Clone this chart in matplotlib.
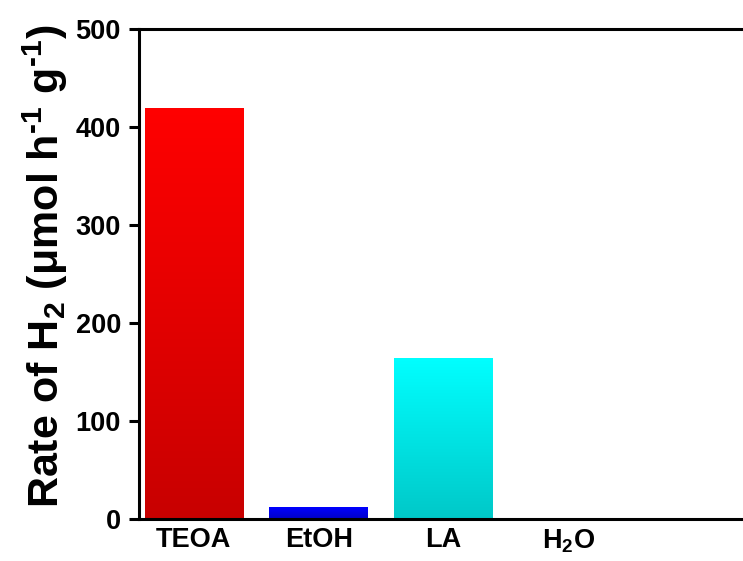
import numpy as np
import matplotlib
matplotlib.use("Agg")
import matplotlib.pyplot as plt
from matplotlib.colors import LinearSegmentedColormap

plt.rcParams['font.family'] = ['Liberation Sans', 'DejaVu Sans']
plt.rcParams['font.weight'] = 'bold'
plt.rcParams['mathtext.fontset'] = 'custom'
plt.rcParams['mathtext.rm'] = 'Liberation Sans:bold'
plt.rcParams['mathtext.it'] = 'Liberation Sans:bold'
plt.rcParams['mathtext.bf'] = 'Liberation Sans:bold'

# sacrificial agents and H2 evolution rate
agents = ['TEOA', 'EtOH', 'LA', r'H$\mathregular{_2}$O']
rates = [420, 12, 164, 0]
top_colors = ['#ff0000', '#0000ff', '#00ffff', '#ffffff']
bottom_colors = ['#c80000', '#0000c8', '#00c8c8', '#ffffff']

fig = plt.figure(figsize=(7.43, 5.61), dpi=100)
ax = fig.add_axes([0.187, 0.075, 0.83, 0.873])

x = np.arange(len(agents))
bars = ax.bar(x, rates, width=0.79, color='none', edgecolor='none', zorder=2)

# fill each bar with a vertical gradient, clipped to the bar
for b, c_top, c_bot in zip(bars, top_colors, bottom_colors):
    if b.get_height() <= 0:
        continue
    cmap = LinearSegmentedColormap.from_list('g', [c_bot, c_top])
    grad = np.linspace(0, 1, 256).reshape(-1, 1)
    x0, w, h = b.get_x(), b.get_width(), b.get_height()
    im = ax.imshow(grad, cmap=cmap, origin='lower', aspect='auto',
                   extent=[x0, x0 + w, 0, h], zorder=2)
    im.set_clip_path(b)

ax.set_xlim(-0.44, 4.5)
ax.set_ylim(0, 500)
ax.set_yticks([0, 100, 200, 300, 400, 500])
ax.set_xticks(x)
ax.set_xticklabels(agents, fontsize=19.5, fontweight='bold')
ax.tick_params(axis='x', length=0, pad=6)
ax.tick_params(axis='y', direction='out', length=7, width=2.2, labelsize=19.5, pad=6)
for lbl in ax.get_yticklabels():
    lbl.set_fontweight('bold')

for side in ['left', 'top', 'bottom']:
    ax.spines[side].set_linewidth(2.2)
ax.spines['right'].set_visible(False)

ax.set_ylabel(r'Rate of H$\mathregular{_2}$ ($\mathregular{\mu}$mol h$\mathregular{^{\text{-}1}}$ g$\mathregular{^{\text{-}1}}$)',
              fontsize=31, fontweight='bold')
ax.yaxis.set_label_coords(-0.112, 0.515)

fig.savefig('out.png', dpi=100)
